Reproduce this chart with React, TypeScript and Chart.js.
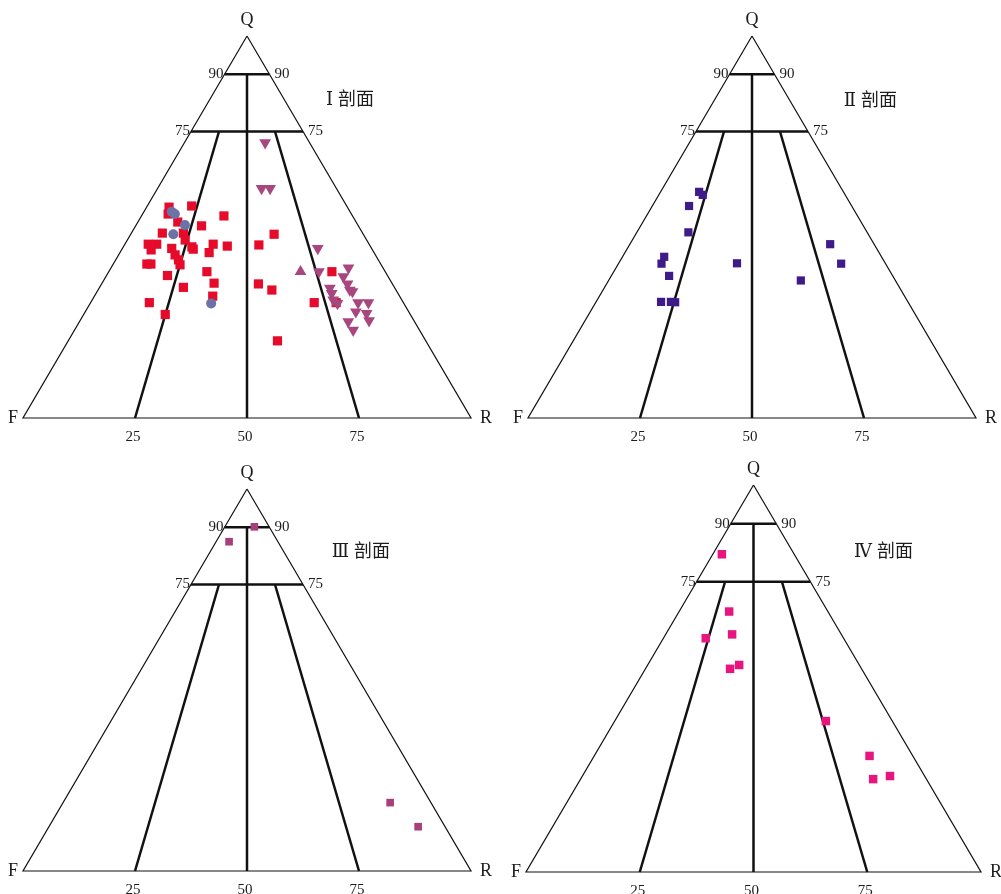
import React, { useEffect, useRef } from 'react';
import { Chart, registerables } from 'chart.js';

Chart.register(...registerables);

// Each point is [Q %, R %]; F % = 100 - Q - R
type QR = [number, number];

const sec1Squares: QR[] = [
  [55.2, 5.0], [53.4, 5.7], [55.5, 9.9], [52.9, 18.4], [50.3, 14.7], [48.4, 6.9],
  [51.3, 8.9], [48.4, 11.6], [46.6, 12.9], [45.5, 5.2], [45.5, 7.1], [44.0, 6.6],
  [44.4, 11.0], [44.8, 15.3], [44.2, 15.9], [45.5, 19.7], [45.0, 23.1], [43.3, 19.9],
  [42.7, 12.6], [41.4, 14.0], [40.1, 15.0], [40.3, 7.5], [40.3, 8.4], [38.3, 21.9],
  [37.3, 13.6], [35.3, 25.0], [34.2, 18.7], [31.9, 26.4], [30.2, 13.1], [27.1, 18.2],
  [48.1, 32.0], [45.3, 30.0], [35.1, 35.0], [33.5, 38.8], [30.2, 49.9], [38.3, 49.8],
  [30.2, 54.8], [20.2, 46.7],
];
const sec1Circles: QR[] = [[54.0, 6.2], [53.4, 7.2], [50.5, 10.9], [48.1, 9.5], [30.0, 27.0]];
const sec1DownTriangles: QR[] = [
  [72.1, 18.0], [60.1, 23.2], [60.1, 25.1], [44.4, 43.6], [38.3, 46.9], [39.3, 53.0],
  [37.0, 53.0], [35.1, 54.9], [33.5, 56.2], [33.1, 57.0], [34.0, 51.5], [32.6, 52.6],
  [30.9, 53.8], [30.0, 55.2], [30.2, 59.7], [30.2, 62.0], [27.8, 60.4], [27.4, 63.0],
  [25.5, 64.5], [25.2, 60.0], [23.0, 62.2],
];
const sec1UpTriangles: QR[] = [[38.3, 42.8]];
const sec2Squares: QR[] = [
  [59.2, 8.6], [58.4, 9.8], [55.5, 8.2], [48.6, 11.5], [42.2, 9.3], [40.4, 9.6],
  [37.2, 12.9], [30.4, 14.5], [30.4, 16.7], [30.3, 17.7], [40.5, 26.4], [45.5, 44.7],
  [40.4, 49.7], [36.0, 42.9],
];
const sec3Squares: QR[] = [[90.1, 6.6], [86.2, 2.9], [17.9, 73.0], [11.6, 82.4]];
const sec4Squares: QR[] = [
  [82.1, 2.0], [67.3, 11.0], [60.4, 9.3], [61.4, 14.6], [52.5, 18.6], [53.5, 20.1],
  [39.0, 46.4], [30.0, 60.5], [24.0, 64.3], [24.8, 67.6],
];

const baseTicks = [25, 50, 75];
const sideTicks = [90, 75];
const sectionNumerals = ['Ⅰ', 'Ⅱ', 'Ⅲ', 'Ⅳ'];
const sectionWord = '剖面';

// guide lines of the classification diagram, as [Q, R] end points
const outline: QR[] = [[100, 0], [0, 0], [0, 100], [100, 0]];
const guideLines: QR[][] = [
  [[90, 0], [90, 10]],
  [[75, 0], [75, 25]],
  [[0, 25], [75, 6.25]],
  [[0, 50], [90, 5]],
  [[0, 75], [75, 18.75]],
];

const toXY = ([q, r]: QR) => ({ x: r + q / 2, y: q });

const SERIF = "'Liberation Serif', 'Times New Roman', 'DejaVu Serif', serif";
const TITLE_FONT = "'Liberation Serif', 'DejaVu Serif', 'Noto Sans CJK SC', serif";

const lineDS = (pts: QR[], width: number) => ({
  type: 'scatter' as const,
  data: pts.map(toXY),
  showLine: true,
  borderColor: '#111',
  backgroundColor: '#111',
  borderWidth: width,
  pointRadius: 0,
  pointHoverRadius: 0,
  fill: false,
  tension: 0,
  clip: false,
  order: 10,
});

const pointDS = (pts: QR[], style: string, color: string, radius: number, rotation = 0, order = 1) => ({
  type: 'scatter' as const,
  data: pts.map(toXY),
  showLine: false,
  pointStyle: style,
  pointRadius: radius,
  pointHoverRadius: radius,
  pointRotation: rotation,
  backgroundColor: color,
  borderColor: color,
  borderWidth: 0,
  clip: false,
  order,
});

const labelPlugin = {
  id: 'ternLabels',
  afterDatasetsDraw(chart: any, _args: any, opts: any) {
    const { ctx } = chart;
    const xs = chart.scales.x;
    const ys = chart.scales.y;
    const px = (q: number, r: number) => [xs.getPixelForValue(r + q / 2), ys.getPixelForValue(q)];
    ctx.save();
    ctx.fillStyle = '#1c1c1c';
    ctx.textBaseline = 'middle';
    ctx.font = `18px ${SERIF}`;
    const [ax, ay] = px(100, 0);
    ctx.textAlign = 'center';
    ctx.fillText('Q', ax, ay - 16);
    const [fx, fy] = px(0, 0);
    ctx.textAlign = 'right';
    ctx.fillText('F', fx - 5, fy);
    const [rx, ry] = px(0, 100);
    ctx.textAlign = 'left';
    ctx.fillText('R', rx + 9, ry);

    ctx.font = `15px ${SERIF}`;
    for (const t of sideTicks) {
      const [lx, ly] = px(t, 0);
      const [rx2, ry2] = px(t, 100 - t);
      ctx.textAlign = 'right';
      ctx.fillText(String(t), lx - 1, ly);
      ctx.textAlign = 'left';
      ctx.fillText(String(t), rx2 + 5, ry2);
    }
    ctx.textAlign = 'center';
    for (const t of baseTicks) {
      const [bx, by] = px(0, t);
      ctx.fillText(String(t), bx - 2, by + 19);
    }

    ctx.font = `18px ${TITLE_FONT}`;
    ctx.textAlign = 'left';
    ctx.fillText(sectionWord, opts.titleX, opts.titleY);
    ctx.textAlign = 'right';
    ctx.fillText(opts.numeral, opts.titleX - 5, opts.titleY);
    ctx.restore();
  },
};

type PanelCfg = {
  padding: { left: number; right: number; top: number; bottom: number };
  datasets: any[];
  numeral: string;
  titleX: number;
  titleY: number;
};

const frame = () => [lineDS(outline, 1.2), ...guideLines.map((l) => lineDS(l, 2.5))];

const panels: PanelCfg[] = [
  {
    padding: { left: 23, right: 530, top: 36, bottom: 476 },
    datasets: [
      pointDS(sec1Circles, 'circle', '#6a72a6', 5, 0, 1),
      pointDS(sec1DownTriangles, 'triangle', '#a8467f', 6.8, 180, 1),
      pointDS(sec1UpTriangles, 'triangle', '#a8467f', 6.8, 0, 1),
      pointDS(sec1Squares, 'rect', '#e60b2a', 6.5, 0, 3),
      ...frame(),
    ],
    numeral: sectionNumerals[0],
    titleX: 338,
    titleY: 100,
  },
  {
    padding: { left: 528, right: 25, top: 36, bottom: 476 },
    datasets: [pointDS(sec2Squares, 'rect', '#3f1b8a', 5.8), ...frame()],
    numeral: sectionNumerals[1],
    titleX: 861,
    titleY: 101,
  },
  {
    padding: { left: 23, right: 530, top: 489, bottom: 23 },
    datasets: [pointDS(sec3Squares, 'rect', '#a83f7c', 5.4), ...frame()],
    numeral: sectionNumerals[2],
    titleX: 354,
    titleY: 552,
  },
  {
    padding: { left: 526, right: 20, top: 485, bottom: 22 },
    datasets: [pointDS(sec4Squares, 'rect', '#e8157f', 6), ...frame()],
    numeral: sectionNumerals[3],
    titleX: 877,
    titleY: 552,
  },
];

function Panel({ cfg }: { cfg: PanelCfg }) {
  const ref = useRef<HTMLCanvasElement>(null);
  useEffect(() => {
    const chart = new Chart(ref.current as HTMLCanvasElement, {
      type: 'scatter',
      data: { datasets: cfg.datasets },
      options: {
        animation: false,
        responsive: false,
        maintainAspectRatio: false,
        devicePixelRatio: 1,
        events: [],
        layout: { padding: cfg.padding },
        scales: {
          x: { type: 'linear', min: 0, max: 100, display: false },
          y: { type: 'linear', min: 0, max: 100, display: false },
        },
        plugins: {
          legend: { display: false },
          tooltip: { enabled: false },
          ternLabels: { numeral: cfg.numeral, titleX: cfg.titleX, titleY: cfg.titleY },
        } as any,
      },
      plugins: [labelPlugin],
    } as any);
    return () => chart.destroy();
  }, [cfg]);
  return (
    <canvas
      ref={ref}
      width={1001}
      height={894}
      style={{ position: 'absolute', left: 0, top: 0, width: 1001, height: 894 }}
    />
  );
}

export default function App() {
  return (
    <div style={{ position: 'absolute', left: 0, top: 0, width: 1001, height: 894, background: '#fff', overflow: 'hidden' }}>
      {panels.map((p, i) => (
        <Panel key={i} cfg={p} />
      ))}
    </div>
  );
}
